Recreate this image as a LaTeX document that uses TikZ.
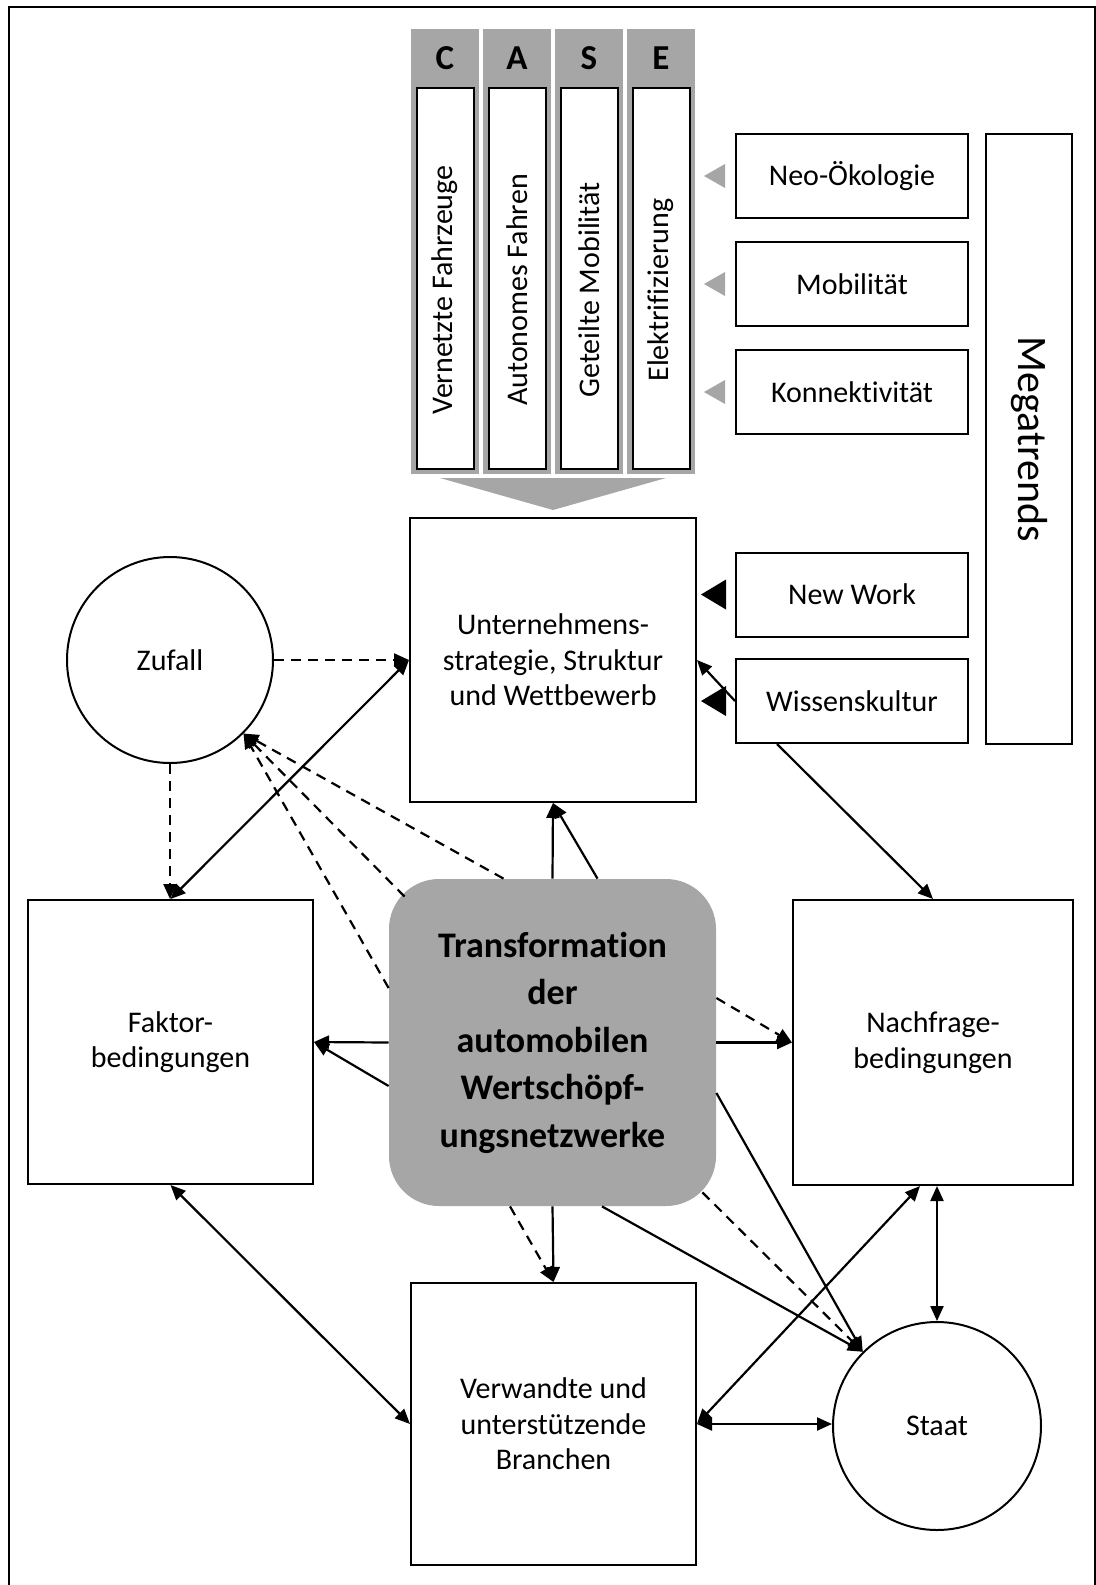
\documentclass[tikz,border=0pt]{standalone}
\usepackage{fontspec}
\setmainfont{Carlito}[RawFeature={-liga;-clig;-dlig}]
\usetikzlibrary{calc}
\usetikzlibrary{arrows.meta}
\definecolor{casegrey}{HTML}{A6A6A6}
\tikzset{
	box/.style={draw, line width=1pt, fill=white, align=center, inner sep=0pt, font=\fontsize{15}{17.7}\selectfont},
	trendbox/.style={box, minimum width=116pt, minimum height=42pt},
	bigbox/.style={box, minimum width=142.5pt, minimum height=142pt},
	conn/.style={line width=1.1pt, >={Triangle[length=7.5pt,width=6.5pt]}},
	dashconn/.style={conn, dash pattern=on 5pt off 3.5pt},
}

\begin{document}
\begin{tikzpicture}[x=0.5pt, y=-0.5pt]
		\useasboundingbox (0,0) rectangle (1096,1585);
		\draw[line width=1pt] (9,1600) -- (9,7) -- (1095,7) -- (1095,1600);

		% CASE
		\foreach \ltr/\txt [count=\i from 0] in {C/Vernetzte Fahrzeuge, A/Autonomes Fahren, S/Geteilte Mobilität, E/Elektrifizierung}{
			\node[fill=casegrey, minimum width=34pt, minimum height=222.5pt, inner sep=0pt] (col\i) at ({445+72*\i},251.5) {};
			\node[font=\bfseries\fontsize{17.5}{20}\selectfont] (ltr\i) at ({445+72*\i},58) {\ltr};
			\node[box, line width=0.8pt, rotate=90, minimum width=190.5pt, minimum height=28.5pt] (field\i) at ({445.5+72*\i},278.5) {};
			\node[rotate=90, font=\fontsize{15}{17.7}\selectfont] (txt\i) at ({445+72*\i},290) {\txt};
		}

		\node[bigbox, minimum width=143pt] (unt) at (553,660) {Unternehmens-\\strategie, Struktur\\und Wettbewerb};
		\fill[casegrey] ($(unt.north)+(-113,-39)$) -- ($(unt.north)+(113,-39)$) -- ($(unt.north)+(0,-7)$) -- cycle;

		\node[box, circle, minimum size=103pt] (zufall) at (170,660) {Zufall};
		\node[bigbox] (faktor) at (170.5,1042) {Faktor-\\bedingungen};
		\node[bigbox, minimum width=140pt, minimum height=142.5pt] (nachfrage) at (933,1042.5) {Nachfrage-\\bedingungen};
		\node[bigbox, minimum height=141pt] (verwandte) at (553.5,1424) {Verwandte und\\unterstützende\\Branchen};
		\node[box, circle, minimum size=104pt] (staat) at (937,1426) {Staat};
		\node[fill=casegrey, rounded corners=25pt, minimum width=163.5pt, minimum height=163.5pt, align=center, font=\bfseries\fontsize{18}{23.75}\selectfont] (trans) at (552.5,1042.5) {Transformation\\der\\automobilen\\Wertschöpf-\\ungsnetzwerke};

		% Megatrends
		\node[box, rotate=-90, minimum width=305pt, minimum height=43pt, font=\fontsize{21}{25}\selectfont] (mega) at (1029,439) {Megatrends};
		\node[trendbox] (neo) at (852,176) {Neo-Ökologie};
		\node[trendbox] (mob) at (852,284) {Mobilität};
		\node[trendbox] (kon) at (852,392) {Konnektivität};
		\node[trendbox] (nw) at (852,594.5) {New Work};
		\node[trendbox] (wk) at (852,701) {Wissenskultur};
		\foreach \n in {neo,mob,kon}
			\fill[casegrey] ($(\n.west)+(-31,0)$) -- ++(21,-12) -- ++(0,24) -- cycle;
		\foreach \n in {nw,wk}
			\fill ($(\n.west)+(-34,0)$) -- ++(25,-15) -- ++(0,30) -- cycle;

		% connectors
		\draw[dashconn,->] (zufall.east) -- (unt.west);
		\draw[dashconn,->] (zufall.south) -- (zufall.south |- faktor.north);
		\draw[conn,<->] (faktor.north) -- (unt.west);
		\draw[dashconn,->] ($(trans.north)+(-49,0)$) -- (zufall.-45);
		\draw[dashconn,->] ($(trans.north west)+(16,18)$) -- (zufall.-45);
		\draw[dashconn,->] ($(trans.west)+(0,-54.5)$) -- (zufall.-45);
		\draw[conn,->] (trans.north) -- (unt.south);
		\draw[conn,->] ($(trans.north)+(45,0)$) -- (unt.south);
		\draw[conn,->] (trans.west) -- (faktor.east);
		\draw[conn,->] ($(trans.west)+(0,43.5)$) -- (faktor.east);
		\draw[conn,->] (trans.east) -- (nachfrage.west);
		\draw[dashconn,->] ($(trans.east)+(0,-44.5)$) -- (nachfrage.west);
		\draw[conn,->] (trans.south) -- (verwandte.north);
		\draw[dashconn,->] ($(trans.south)+(-42.5,0)$) -- (verwandte.north);
		\draw[conn,->] ($(trans.east)+(0,50.5)$) -- (staat.135);
		\draw[conn,->] ($(trans.south)+(49.5,0)$) -- (staat.135);
		\draw[dashconn,->] ($(trans.south east)+(-14,-14)$) -- (staat.135);
		\draw[conn,<->] ($(nachfrage.south)+(-13,0)$) -- (verwandte.east);
		\draw[conn,<->] (verwandte.east) -- (verwandte.east -| staat.west);
		\draw[conn,<->] (staat.north) -- (staat.north |- nachfrage.south);
		\draw[conn,<->] (faktor.south) -- (verwandte.west);
		\draw[conn,->] (wk.west) -- (unt.east);
		\draw[conn,->] ($(wk.south west)+(42,0)$) -- (nachfrage.north);
	\end{tikzpicture}
\end{document}
